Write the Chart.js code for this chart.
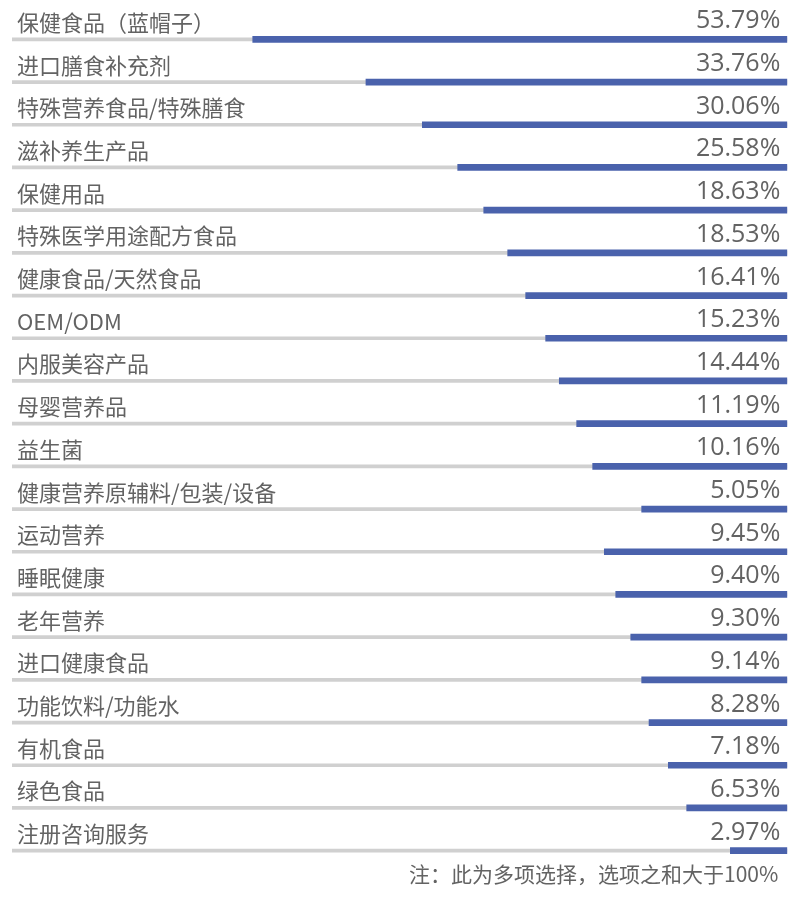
<!DOCTYPE html>
<html>
<head>
<meta charset="utf-8">
<script src="https://cdn.jsdelivr.net/npm/chart.js@4/dist/chart.umd.min.js"></script>
<style>
  html, body { margin: 0; padding: 0; background: #ffffff; }
  #wrap { width: 800px; height: 903px; position: relative; }
</style>
</head>
<body>
<div id="wrap"><canvas id="c" width="800" height="903"></canvas></div>
<script>
// ---- data ----
const categories = [
  '保健食品（蓝帽子）', '进口膳食补充剂', '特殊营养食品/特殊膳食', '滋补养生产品', '保健用品',
  '特殊医学用途配方食品', '健康食品/天然食品', 'OEM/ODM', '内服美容产品', '母婴营养品',
  '益生菌', '健康营养原辅料/包装/设备', '运动营养', '睡眠健康', '老年营养',
  '进口健康食品', '功能饮料/功能水', '有机食品', '绿色食品', '注册咨询服务'
];
const percentValues = [
  53.79, 33.76, 30.06, 25.58, 18.63,
  18.53, 16.41, 15.23, 14.44, 11.19,
  10.16, 5.05, 9.45, 9.40, 9.30,
  9.14, 8.28, 7.18, 6.53, 2.97
];
// bar lengths as drawn in the picture (same units as the track, full track = trackMax)
const barLengths = [
  53.78, 42.39, 36.72, 33.16, 30.54,
  28.13, 26.32, 24.31, 22.94, 21.19,
  19.58, 14.65, 18.41, 17.26, 15.75,
  14.65, 13.91, 11.97, 10.12, 5.73
];
const trackMax = 78;
const noteText = '注：此为多项选择，选项之和大于100%';

const trackValues = categories.map(() => trackMax);

const textPlugin = {
  id: 'rowText',
  afterDatasetsDraw(chart) {
    const ctx = chart.ctx;
    const meta = chart.getDatasetMeta(1);
    const area = chart.chartArea;
    ctx.save();
    meta.data.forEach((bar, i) => {
      const y = bar.y;
      ctx.fillStyle = '#636363';
      ctx.textAlign = 'left';
      ctx.textBaseline = 'alphabetic';
      ctx.font = '22px "Noto Sans CJK SC", "Noto Sans", sans-serif';
      ctx.fillText(categories[i], area.left + 5, y - 8.5);
      ctx.textAlign = 'right';
      ctx.font = '25px "Open Sans", "Noto Sans", sans-serif';
      ctx.fillText(percentValues[i].toFixed(2) + '%', area.right - 7, y - 11);
    });
    ctx.textAlign = 'right';
    ctx.font = '21px "Noto Sans CJK SC", sans-serif';
    ctx.fillStyle = '#636363';
    ctx.fillText(noteText, area.right - 9, 882);
    ctx.restore();
  }
};

new Chart(document.getElementById('c'), {
  type: 'bar',
  data: {
    labels: categories,
    datasets: [
      {
        label: 'track',
        data: trackValues,
        backgroundColor: '#d0d0d0',
        barThickness: 3,
        grouped: false,
        order: 2
      },
      {
        label: 'value',
        data: barLengths,
        backgroundColor: '#4a62ac',
        barThickness: 6,
        grouped: false,
        order: 1
      }
    ]
  },
  options: {
    indexAxis: 'y',
    responsive: false,
    animation: false,
    layout: { padding: { left: 12, right: 12.7, top: 18, bottom: 31 } },
    scales: {
      x: { display: false, reverse: true, min: 0, max: trackMax },
      y: { display: false, offset: true }
    },
    plugins: {
      legend: { display: false },
      tooltip: { enabled: false }
    }
  },
  plugins: [textPlugin]
});
</script>
</body>
</html>
